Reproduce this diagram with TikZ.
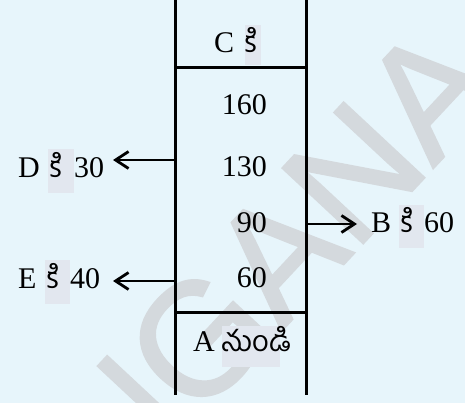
\documentclass[tikz,border=0pt]{standalone}
\usepackage{fontspec}
\setmainfont{Liberation Serif}
\newfontfamily\telugu[Script=Telugu]{Hind Guntur}
\newfontfamily\wmfont[FakeBold=1.5]{Liberation Sans}
\usetikzlibrary{arrows.meta}
\definecolor{bg}{RGB}{231,245,251}
\definecolor{hlc}{RGB}{226,231,239}
\definecolor{wm}{RGB}{212,217,221}
% #1 width, #2 depth, #3 total height, #4 left pad, #5 telugu text
\newcommand\hlb[5]{{\setlength\fboxsep{0pt}\colorbox{hlc}{\rule[-#2]{0pt}{#3}\makebox[#1][l]{\hspace{#4}{\telugu\fontsize{29}{29}\selectfont #5}}}}}
\tikzset{
  wall/.style={line width=3pt, line cap=rect},
  sep/.style={line width=3pt},
  arr/.style={line width=2.8pt, -{Straight Barb[length=13pt,width=17pt]}},
  lbl/.style={inner sep=0pt, font=\fontsize{30}{30}\selectfont},
  num/.style={inner sep=0pt, anchor=base east, font=\fontsize{30}{30}\selectfont},
}
\begin{document}
\begin{tikzpicture}[x=1pt,y=-1pt]
\useasboundingbox (0,0) rectangle (465,403);
\fill[bg] (0,0) rectangle (465,403);
\begin{scope}
\clip (0,0) rectangle (465,403);
\node[rotate=47, anchor=base east, inner sep=0pt, text=wm,
      font=\wmfont\fontsize{160}{160}\selectfont] (wmark) at (506,90) {TELANGANA};
\end{scope}
% walls
\coordinate (lt) at (175,0);
\coordinate (lb) at (175,393);
\coordinate (rt) at (306,0);
\coordinate (rb) at (306,393);
\draw[wall] (lt) -- (lb);
\draw[wall] (rt) -- (rb);
% separators
\coordinate (s1l) at (175,68);
\coordinate (s1r) at (306,68);
\coordinate (s2l) at (175,312);
\coordinate (s2r) at (306,312);
\draw[sep] (s1l) -- (s1r);
\draw[sep] (s2l) -- (s2r);
% inside texts
\node[lbl, anchor=base west] (C) at (214,53) {C\hspace{11pt}\hlb{16pt}{12pt}{40pt}{0pt}{కి}};
\node[num] (n160) at (267,115) {160};
\node[num] (n130) at (267,177) {130};
\node[num] (n90) at (267,232) {90};
\node[num] (n60) at (267,287) {60};
\node[lbl, anchor=base west] (A) at (193,351) {A\hspace{7pt}\hlb{58pt}{16pt}{39pt}{0pt}{నుండి}};
% outside labels
\node[lbl, anchor=base west] (D) at (18,178) {D\hspace{8.3pt}\hlb{26pt}{15pt}{44pt}{2pt}{కి}30};
\node[lbl, anchor=base west] (E) at (18,288) {E\hspace{8.7pt}\hlb{25pt}{16pt}{44pt}{2pt}{కి}40};
\node[lbl, anchor=base west] (B) at (371,232) {B\hspace{8pt}\hlb{25pt}{16pt}{43pt}{2pt}{కి}60};
% arrows
\coordinate (dfrom) at (175,160);
\coordinate (dto) at (113,160);
\coordinate (efrom) at (175,281);
\coordinate (eto) at (113,281);
\coordinate (bfrom) at (306,224);
\coordinate (bto) at (357,224);
\draw[arr] (dfrom) -- (dto);
\draw[arr] (efrom) -- (eto);
\draw[arr] (bfrom) -- (bto);
\end{tikzpicture}
\end{document}
